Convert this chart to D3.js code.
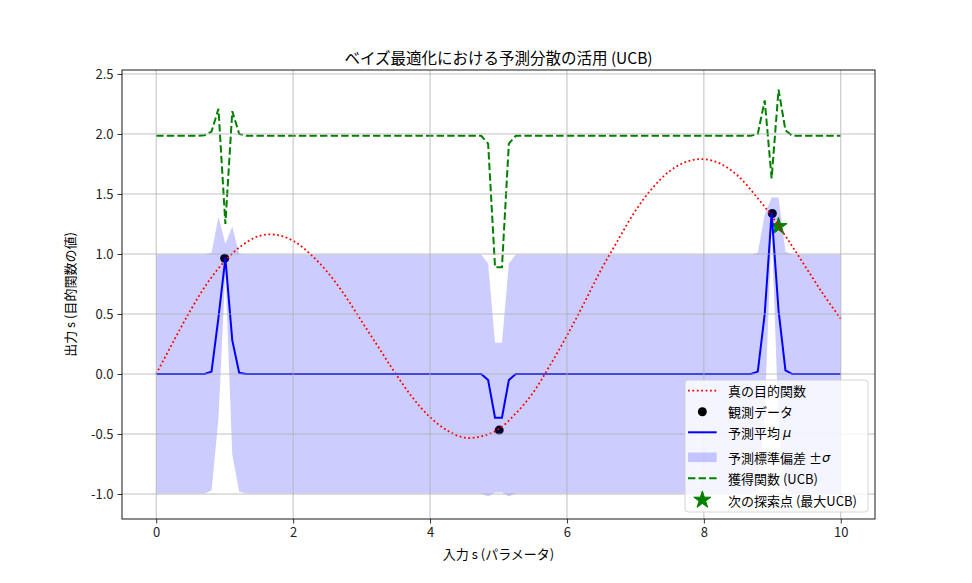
<!DOCTYPE html>
<html>
<head>
<meta charset="utf-8">
<script src="https://cdn.jsdelivr.net/npm/d3@7"></script>
<style>
  body { margin: 0; background: #fff; }
  text { font-family: "Noto Sans CJK JP", "Noto Sans", sans-serif; fill: #000; }
</style>
</head>
<body>
<svg id="chart" width="972" height="583"></svg>
<script>
// true objective, read every 0.25 from x = 0 to 10
var trueX = d3.range(41).map(function(i) { return i * 0.25; });
var trueY = [0.00, 0.27, 0.53, 0.76, 0.94, 1.07, 1.15, 1.16, 1.11, 1.00,
             0.85, 0.66, 0.44, 0.22, 0.00, -0.20, -0.36, -0.47, -0.53, -0.52,
             -0.46, -0.33, -0.16, 0.07, 0.32, 0.59, 0.87, 1.12, 1.36, 1.55,
             1.69, 1.77, 1.79, 1.75, 1.65, 1.49, 1.31, 1.10, 0.88, 0.66, 0.46];

// observations
var obsX = [1.0, 5.01, 9.0];
var obsY = [0.965, -0.467, 1.337];

// prediction grid (100 points between 0 and 10)
var gridX = d3.range(100).map(function(i) { return i * 10 / 99; });

var predMean = [0, 0, 0, 0, 0, 0, 0, 0, 0.02, 0.47,
                0.965, 0.28, 0.01, 0, 0, 0, 0, 0, 0, 0,
                0, 0, 0, 0, 0, 0, 0, 0, 0, 0,
                0, 0, 0, 0, 0, 0, 0, 0, 0, 0,
                0, 0, 0, 0, 0, 0, 0, 0, -0.05, -0.364,
                -0.364, -0.05, 0, 0, 0, 0, 0, 0, 0, 0,
                0, 0, 0, 0, 0, 0, 0, 0, 0, 0,
                0, 0, 0, 0, 0, 0, 0, 0, 0, 0,
                0, 0, 0, 0, 0, 0, 0, 0.02, 0.50, 1.34,
                0.53, 0.03, 0, 0, 0, 0, 0, 0, 0, 0];

var predStd = [0.995, 0.995, 0.995, 0.995, 0.995, 0.995, 0.995, 0.995, 0.99, 0.84,
               0.12, 0.95, 0.99, 0.995, 0.995, 0.995, 0.995, 0.995, 0.995, 0.995,
               0.995, 0.995, 0.995, 0.995, 0.995, 0.995, 0.995, 0.995, 0.995, 0.995,
               0.995, 0.995, 0.995, 0.995, 0.995, 0.995, 0.995, 0.995, 0.995, 0.995,
               0.995, 0.995, 0.995, 0.995, 0.995, 0.995, 0.995, 0.995, 0.97, 0.624,
               0.624, 0.97, 0.995, 0.995, 0.995, 0.995, 0.995, 0.995, 0.995, 0.995,
               0.995, 0.995, 0.995, 0.995, 0.995, 0.995, 0.995, 0.995, 0.995, 0.995,
               0.995, 0.995, 0.995, 0.995, 0.995, 0.995, 0.995, 0.995, 0.995, 0.995,
               0.995, 0.995, 0.995, 0.995, 0.995, 0.995, 0.995, 0.99, 0.83, 0.13,
               0.94, 0.99, 0.995, 0.995, 0.995, 0.995, 0.995, 0.995, 0.995, 0.995];

var ucb = [1.985, 1.985, 1.985, 1.985, 1.985, 1.985, 1.985, 1.99, 2.02, 2.21,
           1.25, 2.19, 2.0, 1.985, 1.985, 1.985, 1.985, 1.985, 1.985, 1.985,
           1.985, 1.985, 1.985, 1.985, 1.985, 1.985, 1.985, 1.985, 1.985, 1.985,
           1.985, 1.985, 1.985, 1.985, 1.985, 1.985, 1.985, 1.985, 1.985, 1.985,
           1.985, 1.985, 1.985, 1.985, 1.985, 1.985, 1.985, 1.985, 1.92, 0.89,
           0.89, 1.92, 1.985, 1.985, 1.985, 1.985, 1.985, 1.985, 1.985, 1.985,
           1.985, 1.985, 1.985, 1.985, 1.985, 1.985, 1.985, 1.985, 1.985, 1.985,
           1.985, 1.985, 1.985, 1.985, 1.985, 1.985, 1.985, 1.985, 1.985, 1.985,
           1.985, 1.985, 1.985, 1.985, 1.985, 1.985, 1.985, 2.0, 2.28, 1.63,
           2.37, 2.03, 1.985, 1.985, 1.985, 1.985, 1.985, 1.985, 1.985, 1.985];

// next sample point (max UCB)
var nextX = [9.09];
var nextY = [1.23];

var xTicks = [0, 2, 4, 6, 8, 10];
var yTicks = [-1.0, -0.5, 0.0, 0.5, 1.0, 1.5, 2.0, 2.5];

var legendLabels = ["真の目的関数", "観測データ", "予測平均 μ", "予測標準偏差 ±σ", "獲得関数 (UCB)", "次の探索点 (最大UCB)"];

var title = "ベイズ最適化における予測分散の活用 (UCB)";
var xLabel = "入力 s (パラメータ)";
var yLabel = "出力 s (目的関数の値)";

var plot = { left: 122, right: 875, top: 70, bottom: 519 };
var svg = d3.select("#chart");

var x = d3.scaleLinear().domain([-0.5, 10.5]).range([plot.left, plot.right]);
var y = d3.scaleLinear().domain([-1.208, 2.533]).range([plot.bottom, plot.top]);

var fmt = function(v) { return d3.format(".1f")(v).replace("−", "-"); };

var clip = svg.append("defs").append("clipPath").attr("id", "plotClip");
clip.append("rect")
  .attr("x", plot.left).attr("y", plot.top)
  .attr("width", plot.right - plot.left).attr("height", plot.bottom - plot.top);

var g = svg.append("g").attr("clip-path", "url(#plotClip)");

//observed points (scatter sits under the lines)
g.selectAll("circle.obs")
  .data(obsX.map(function(d, i) { return [d, obsY[i]]; }))
  .enter().append("circle")
  .attr("class", "obs")
  .attr("cx", function(d) { return x(d[0]); })
  .attr("cy", function(d) { return y(d[1]); })
  .attr("r", 4.5)
  .style("fill", "#000");

//std band
var band = d3.area()
  .x(function(d, i) { return x(gridX[i]); })
  .y0(function(d, i) { return y(predMean[i] - predStd[i]); })
  .y1(function(d, i) { return y(predMean[i] + predStd[i]); });
g.append("path")
  .attr("d", band(gridX))
  .style("fill", "rgba(0,0,255,0.2)")
  .style("stroke", "none");

//next point star
var star = d3.symbol().type(d3.symbolStar).size(92);
g.selectAll("path.next")
  .data(nextX.map(function(d, i) { return [d, nextY[i]]; }))
  .enter().append("path")
  .attr("class", "next")
  .attr("d", star)
  .attr("transform", function(d) { return "translate(" + x(d[0]) + "," + y(d[1]) + ")"; })
  .style("fill", "#008000")
  .style("stroke", "#008000")
  .style("stroke-width", 1);

//grid
var grid = svg.append("g");
xTicks.forEach(function(t) {
  grid.append("line")
    .attr("x1", x(t)).attr("x2", x(t))
    .attr("y1", plot.top).attr("y2", plot.bottom)
    .attr("stroke", "#b0b0b0").attr("stroke-width", 0.8);
});
yTicks.forEach(function(t) {
  grid.append("line")
    .attr("x1", plot.left).attr("x2", plot.right)
    .attr("y1", y(t)).attr("y2", y(t))
    .attr("stroke", "#b0b0b0").attr("stroke-width", 0.8);
});

//true function
g.append("path")
  .attr("d", d3.line()
    .x(function(d, i) { return x(trueX[i]); })
    .y(function(d) { return y(d); })
    .curve(d3.curveCatmullRom)(trueY))
  .style("fill", "none")
  .style("stroke", "red")
  .style("stroke-width", 1.8)
  .style("stroke-dasharray", "1.8,2.6");

//predicted mean
g.append("path")
  .attr("d", d3.line()
    .x(function(d, i) { return x(gridX[i]); })
    .y(function(d) { return y(d); })(predMean))
  .style("fill", "none")
  .style("stroke", "blue")
  .style("stroke-width", 2);

//acquisition (UCB)
g.append("path")
  .attr("d", d3.line()
    .x(function(d, i) { return x(gridX[i]); })
    .y(function(d) { return y(d); })(ucb))
  .style("fill", "none")
  .style("stroke", "#008000")
  .style("stroke-width", 2)
  .style("stroke-dasharray", "7.4,3.2");

//axes
var xAxis = svg.append("g")
  .attr("transform", "translate(0," + plot.bottom + ")")
  .call(d3.axisBottom(x).tickValues(xTicks).tickSize(4.5).tickPadding(4).tickFormat(d3.format("d")));
var yAxis = svg.append("g")
  .attr("transform", "translate(" + plot.left + ",0)")
  .call(d3.axisLeft(y).tickValues(yTicks).tickSize(4.5).tickPadding(4).tickFormat(fmt));
[xAxis, yAxis].forEach(function(a) {
  a.select(".domain").remove();
  a.selectAll(".tick line").attr("stroke", "#000").attr("stroke-width", 0.8);
  a.selectAll(".tick text").style("font-size", "13px").style("fill", "#222")
    .style("font-family", "'Noto Sans CJK JP', sans-serif");
});

//frame
svg.append("rect")
  .attr("x", plot.left).attr("y", plot.top)
  .attr("width", plot.right - plot.left).attr("height", plot.bottom - plot.top)
  .style("fill", "none").style("stroke", "#000").style("stroke-width", 0.9);

//labels
svg.append("text")
  .attr("x", (plot.left + plot.right) / 2).attr("y", 57)
  .attr("text-anchor", "middle").attr("dominant-baseline", "central")
  .style("font-size", "15.5px")
  .text(title);
svg.append("text")
  .attr("x", (plot.left + plot.right) / 2).attr("y", 553)
  .attr("text-anchor", "middle").attr("dominant-baseline", "central")
  .style("font-size", "13px")
  .text(xLabel);
svg.append("text")
  .attr("transform", "translate(69," + ((plot.top + plot.bottom) / 2) + ") rotate(-90)")
  .attr("text-anchor", "middle").attr("dominant-baseline", "central")
  .style("font-size", "13px")
  .text(yLabel);

//legend
var legend = svg.append("g");
legend.append("rect")
  .attr("x", 685).attr("y", 380).attr("width", 183).attr("height", 132)
  .attr("rx", 3).attr("ry", 3)
  .style("fill", "rgba(255,255,255,0.8)")
  .style("stroke", "#cccccc").style("stroke-width", 0.8);

var rowY = [390.7, 411.7, 432.3, 457.3, 478.3, 500];
var hx0 = 688, hx1 = 716.7, hxm = (hx0 + hx1) / 2;

legend.append("line").attr("x1", hx0).attr("x2", hx1).attr("y1", rowY[0]).attr("y2", rowY[0])
  .style("stroke", "red").style("stroke-width", 1.8).style("stroke-dasharray", "1.8,2.6");
legend.append("circle").attr("cx", hxm).attr("cy", rowY[1]).attr("r", 4.5).style("fill", "#000");
legend.append("line").attr("x1", hx0).attr("x2", hx1).attr("y1", rowY[2]).attr("y2", rowY[2])
  .style("stroke", "blue").style("stroke-width", 2);
legend.append("rect").attr("x", hx0).attr("y", rowY[3] - 4.8).attr("width", hx1 - hx0).attr("height", 9.6)
  .style("fill", "rgba(0,0,255,0.2)");
legend.append("line").attr("x1", hx0).attr("x2", hx1).attr("y1", rowY[4]).attr("y2", rowY[4])
  .style("stroke", "#008000").style("stroke-width", 2).style("stroke-dasharray", "7.4,3.2");
legend.append("path").attr("d", star)
  .attr("transform", "translate(" + hxm + "," + rowY[5] + ")")
  .style("fill", "#008000").style("stroke", "#008000").style("stroke-width", 1);

legendLabels.forEach(function(lbl, i) {
  var t = legend.append("text")
    .attr("x", 728).attr("y", rowY[i])
    .attr("dominant-baseline", "central")
    .style("font-size", "13px");
  var m = lbl.match(/^(.*?)([μσ])$/);
  if (m) {
    t.append("tspan").text(m[1]);
    t.append("tspan").style("font-style", "italic").style("font-family", "'DejaVu Sans', sans-serif").text(m[2]);
  } else {
    t.text(lbl);
  }
});
</script>
</body>
</html>
